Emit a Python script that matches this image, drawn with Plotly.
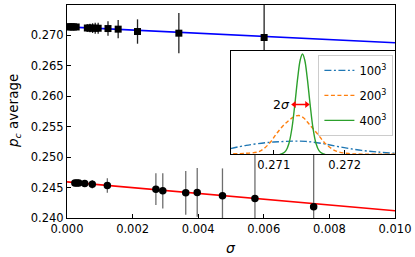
import plotly.graph_objects as go

# ---- main panel data ----
sig_hi = [0.00005, 0.0001, 0.00015, 0.0002, 0.00028, 0.00062, 0.0007, 0.00078, 0.00086, 0.00095,
          0.00125, 0.00156, 0.00215, 0.00341, 0.00601]
pc_hi = [0.27142, 0.27141, 0.27141, 0.27140, 0.27139, 0.27122, 0.27121, 0.27120, 0.27119, 0.27118,
         0.27113, 0.27103, 0.27064, 0.27037, 0.26966]
err_hi = [0.0002, 0.0002, 0.0003, 0.0003, 0.0004, 0.0006, 0.0007, 0.0008, 0.0009, 0.0009,
          0.0012, 0.0015, 0.0020, 0.0033, 0.0065]

sig_lo = [0.00024, 0.0003, 0.00036, 0.00054, 0.00077, 0.00123, 0.00271, 0.00292, 0.00362, 0.00397,
          0.00474, 0.00573, 0.00752]
pc_lo = [0.24577, 0.24576, 0.24575, 0.24567, 0.24556, 0.24534, 0.24474, 0.24446, 0.24413, 0.24420,
         0.24365, 0.24322, 0.24185]
err_lo = [0.0002, 0.0002, 0.0003, 0.0004, 0.0007, 0.0012, 0.0026, 0.0029, 0.0036, 0.0040,
          0.0045, 0.0075, 0.0090]

fit_x = [0.0, 0.010]
fit_hi = [0.27141, 0.26880]
fit_lo = [0.24593, 0.24119]

# ---- inset data (distributions of p_c) ----
x_100 = [0.27039, 0.27061, 0.27089, 0.27107, 0.27127, 0.27145, 0.27168, 0.27192, 0.27220, 0.27247, 0.27271]
y_100 = [5.7, 9.0, 11.7, 12.6, 13.2, 13.0, 10.9, 7.6, 4.3, 2.3, 1.0]

x_200 = [0.270427, 0.27061, 0.270799, 0.270939, 0.271032, 0.271116, 0.271196, 0.27127, 0.271349,
         0.271423, 0.271497, 0.271615, 0.27173, 0.27187, 0.272056, 0.272247, 0.27271]
y_200 = [0.5, 1.0, 3.0, 11.0, 20.0, 27.5, 33.0, 37.0, 39.0, 36.5, 30.5, 20.7, 10.7, 3.5, 0.8, 0.2, 0.0]

x_400 = [0.271084, 0.271126, 0.271172, 0.271214, 0.271256, 0.271297, 0.271339, 0.271374, 0.271405,
         0.271436, 0.271471, 0.271513, 0.271554, 0.271596, 0.271638, 0.271684, 0.271726]
y_400 = [0.0, 0.9, 3.7, 10.9, 26.0, 50.0, 77.5, 95.0, 100.7, 95.0, 77.5, 50.0, 26.0, 10.9, 3.7, 0.9, 0.0]

arrow_x = [0.271288, 0.271465]
arrow_y = [50.0, 50.0]

inset_ticks = [0.271, 0.272]
inset_labels = ["0.271", "0.272"]
legend_names = ["100<sup>3</sup>", "200<sup>3</sup>", "400<sup>3</sup>"]

FONT = "DejaVu Sans"
fig = go.Figure()

# fit lines
fig.add_trace(go.Scatter(x=fit_x, y=fit_hi, mode="lines", line=dict(color="#0000ff", width=1.6),
                         showlegend=False, hoverinfo="skip"))
fig.add_trace(go.Scatter(x=fit_x, y=fit_lo, mode="lines", line=dict(color="#ff0000", width=1.6),
                         showlegend=False, hoverinfo="skip"))
# data points
fig.add_trace(go.Scatter(x=sig_hi, y=pc_hi, mode="markers",
                         marker=dict(symbol="square", size=7, color="black"),
                         error_y=dict(type="data", array=err_hi, color="#222222", thickness=1.3, width=0),
                         showlegend=False))
fig.add_trace(go.Scatter(x=sig_lo, y=pc_lo, mode="markers",
                         marker=dict(symbol="circle", size=7.5, color="black"),
                         error_y=dict(type="data", array=err_lo, color="#6e6e6e", thickness=1.3, width=0),
                         showlegend=False))

# inset curves
fig.add_trace(go.Scatter(x=x_100, y=y_100, mode="lines", name=legend_names[0], legendgroup="a",
                         line=dict(color="#1f77b4", width=1.4, dash="7px,2.5px,2px,2.5px", shape="spline"),
                         xaxis="x2", yaxis="y2"))
fig.add_trace(go.Scatter(x=x_200, y=y_200, mode="lines", name=legend_names[1], legendgroup="b",
                         line=dict(color="#ff7f0e", width=1.4, dash="4px,2.5px", shape="spline"),
                         xaxis="x2", yaxis="y2"))
fig.add_trace(go.Scatter(x=x_400, y=y_400, mode="lines", name=legend_names[2], legendgroup="c",
                         line=dict(color="#2ca02c", width=1.4, shape="spline"),
                         xaxis="x2", yaxis="y2"))

# 2 sigma double arrow
fig.add_trace(go.Scatter(x=arrow_x, y=arrow_y, mode="lines+markers", showlegend=False,
                         line=dict(color="#ff0000", width=1.6),
                         marker=dict(symbol=["triangle-left", "triangle-right"], size=6, color="#ff0000"),
                         xaxis="x2", yaxis="y2", hoverinfo="skip"))
fig.add_annotation(x=arrow_x[0], y=arrow_y[0], xref="x2", yref="y2", text="2<i>σ</i>", showarrow=False,
                   xanchor="right", xshift=-2, font=dict(family=FONT, size=12.5, color="black"))

axis_common = dict(showline=True, linecolor="black", linewidth=1, mirror=True, ticks="inside",
                   ticklen=4, tickcolor="black", tickwidth=1, showgrid=False, zeroline=False,
                   tickfont=dict(family=FONT, size=11.5, color="black"))

fig.update_layout(
    width=415, height=257,
    margin=dict(l=67, r=17, t=4, b=39),
    paper_bgcolor="white", plot_bgcolor="white",
    font=dict(family=FONT, size=11.5, color="black"),
    xaxis=dict(range=[0, 0.010], dtick=0.002, tickformat=".3f", **axis_common),
    yaxis=dict(range=[0.240, 0.275], dtick=0.005, tickformat=".3f", **axis_common),
    xaxis2=dict(domain=[0.4985, 1.0], anchor="y2", range=[0.27039, 0.27271],
                tickvals=inset_ticks, ticktext=inset_labels, **axis_common),
    yaxis2=dict(domain=[0.299, 0.785], anchor="x2", range=[0, 104], showline=True, linecolor="black",
                linewidth=1, mirror=True, showticklabels=False, ticks="", showgrid=False, zeroline=False),
    legend=dict(x=0.7665, y=0.766, xanchor="left", yanchor="top", bgcolor="white",
                bordercolor="#cccccc", borderwidth=1, font=dict(family=FONT, size=11.5),
                tracegroupgap=6),
    showlegend=True,
)

fig.add_annotation(text="<i>σ</i>", xref="paper", yref="paper", x=0.5, y=-0.14, showarrow=False,
                   yanchor="middle", font=dict(family=FONT, size=14, color="black"))
fig.add_annotation(text="<i>p</i><sub><i>c</i></sub> average", xref="paper", yref="paper",
                   x=-0.163, y=0.5, textangle=-90, showarrow=False, xanchor="center", yanchor="middle",
                   font=dict(family=FONT, size=13.5, color="black"))

fig.write_html("out.html", config={"displayModeBar": False},
               post_script="document.body.style.margin='0';")
